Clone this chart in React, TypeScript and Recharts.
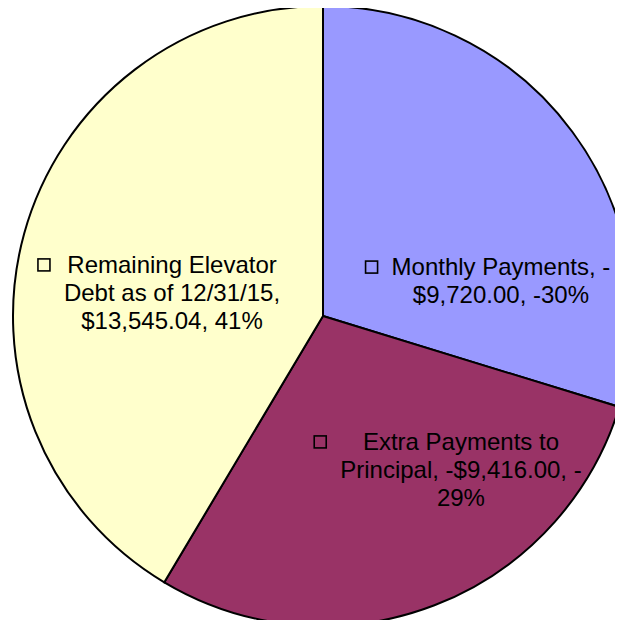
import { PieChart, Pie, Cell } from 'recharts';

// slice names and the values shown in the data labels
const categories = ['Monthly Payments', 'Extra Payments to Principal', 'Remaining Elevator Debt as of 12/31/15'];
const amounts = [-9720.0, -9416.0, 13545.04];
const colors = ['#9999FF', '#993366', '#FFFFCC'];

// label text, wrapped the way the original chart wraps it
const labelLines = [
  ['Monthly Payments, -', '$9,720.00, -30%'],
  ['Extra Payments to', 'Principal, -$9,416.00, -', '29%'],
  ['Remaining Elevator', 'Debt as of 12/31/15,', '$13,545.04, 41%'],
];

// where each label block sits, relative to the pie centre (in radii)
const labelOffsets = [
  [0.574, -0.132],
  [0.445, 0.432],
  [-0.487, -0.139],
];

const FONT = 'Liberation Sans, Arial, sans-serif';
const FONT_SIZE = 24;
const LINE_H = 28;

const data = categories.map((name, i) => ({ name, value: Math.abs(amounts[i]) }));

let ctx: CanvasRenderingContext2D | null = null;
const measure = (s: string) => {
  if (!ctx) ctx = document.createElement('canvas').getContext('2d');
  if (!ctx) return s.length * FONT_SIZE * 0.5;
  ctx.font = `${FONT_SIZE}px "Liberation Sans", Arial, sans-serif`;
  return ctx.measureText(s).width;
};

const renderLabel = (props: any) => {
  const { cx, cy, outerRadius, index } = props;
  const [ox, oy] = labelOffsets[index];
  const x = cx + ox * outerRadius;
  const y = cy + oy * outerRadius;
  const lines = labelLines[index];
  const maxW = Math.max(...lines.map(measure));
  const left = x - maxW / 2;
  return (
    <g key={`lbl-${index}`}>
      <rect x={left - 26} y={y - 14} width={12} height={12} fill={colors[index]} stroke="#000" strokeWidth={1.6} />
      {lines.map((ln, j) => (
        <text key={j} x={x} y={y + j * LINE_H} textAnchor="middle" fontFamily={FONT} fontSize={FONT_SIZE} fill="#000">
          {ln}
        </text>
      ))}
    </g>
  );
};

export default function App() {
  return (
    <div style={{ margin: -8, width: 623, height: 628, background: '#fff', overflow: 'hidden' }}>
      <PieChart width={623} height={628} margin={{ top: 0, right: 0, bottom: 0, left: 0 }}>
        <Pie
          data={data}
          dataKey="value"
          cx={323}
          cy={316}
          outerRadius={310}
          startAngle={90}
          endAngle={-270}
          stroke="#000"
          strokeWidth={2}
          label={renderLabel}
          labelLine={false}
          isAnimationActive={false}
        >
          {data.map((d, i) => (
            <Cell key={d.name} fill={colors[i]} />
          ))}
        </Pie>
      </PieChart>
    </div>
  );
}
